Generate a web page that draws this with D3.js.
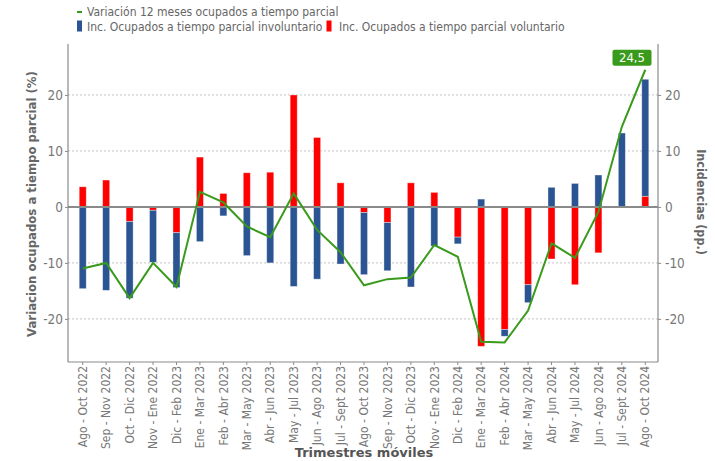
<!DOCTYPE html>
<html>
<head>
<meta charset="utf-8">
<script src="https://cdn.jsdelivr.net/npm/d3@7"></script>
<style>
  body { margin: 0; background: #fff; }
  svg { display: block; font-family: "DejaVu Sans Condensed", "DejaVu Sans", sans-serif; }
</style>
</head>
<body>
<div id="chart"></div>
<script>
// trimestres moviles
var periodos = ["Ago - Oct 2022", "Sep - Nov 2022", "Oct - Dic 2022", "Nov - Ene 2022", "Dic - Feb 2023",
  "Ene - Mar 2023", "Feb - Abr 2023", "Mar - May 2023", "Abr - Jun 2023", "May - Jul 2023",
  "Jun - Ago 2023", "Jul - Sept 2023", "Ago - Oct 2023", "Sep - Nov 2023", "Oct - Dic 2023",
  "Nov - Ene 2023", "Dic - Feb 2024", "Ene - Mar 2024", "Feb - Abr 2024", "Mar - May 2024",
  "Abr - Jun 2024", "May - Jul 2024", "Jun - Ago 2024", "Jul - Sept 2024", "Ago - Oct 2024"];

// incidencia involuntario (pp.)
var involuntario = [-14.6, -14.9, -13.7, -9.3, -9.8, -6.2, -1.6, -8.7, -10.0, -14.2,
  -12.9, -10.2, -11.1, -8.6, -14.3, -7.0, -1.2, 1.4, -1.2, -3.2,
  3.5, 4.2, 5.7, 13.2, 20.9];

// incidencia voluntario (pp.)
var voluntario = [3.6, 4.8, -2.6, -0.6, -4.6, 8.9, 2.4, 6.1, 6.2, 20.0,
  12.4, 4.3, -1.0, -2.8, 4.3, 2.6, -5.4, -24.9, -21.9, -13.9,
  -9.3, -13.9, -8.2, 0.0, 1.9];

// variacion 12 meses (%)
var variacion = [-11.0, -10.0, -16.3, -10.0, -14.3, 2.7, 0.8, -3.5, -5.4, 2.4,
  -4.1, -8.1, -14.0, -12.9, -12.6, -6.8, -8.9, -24.1, -24.2, -18.5,
  -6.5, -9.1, -0.9, 14.3, 24.5];

var yTicks = [-20, -10, 0, 10, 20];

var W = 715, H = 461;
var mLeft = 68, mRight = 658, mTop = 44, mBottom = 362;
var azul = "#2b5493", rojo = "#ff0000", verde = "#3a9a1c", gris = "#666";

var svg = d3.select("#chart").append("svg").attr("width", W).attr("height", H);

var x = d3.scaleBand().domain(periodos).range([71, 657]).paddingInner(0.7).paddingOuter(0.35);
var y = d3.scaleLinear().domain([-27.7, 29.1]).range([mBottom, mTop]);
var y2 = d3.scaleLinear().domain([-27.7, 29.1]).range([mBottom, mTop]);

// grid
svg.append("g").selectAll("line").data(yTicks.filter(function (d) { return d != 0; }))
  .enter().append("line")
  .attr("x1", mLeft).attr("x2", mRight)
  .attr("y1", function (d) { return y(d); }).attr("y2", function (d) { return y(d); })
  .attr("stroke", "#c4c4c4").attr("stroke-dasharray", "2,2").attr("stroke-width", 1);

// barras apiladas (voluntario primero, junto al cero)
var tabla = periodos.map(function (p, i) {
  return { periodo: p, voluntario: voluntario[i], involuntario: involuntario[i] };
});
var stack = d3.stack().keys(["voluntario", "involuntario"]).offset(d3.stackOffsetDiverging);
var series = stack(tabla);
var colores = { voluntario: rojo, involuntario: azul };

svg.append("g").selectAll("g").data(series).enter().append("g")
  .attr("fill", function (s) { return colores[s.key]; })
  .selectAll("rect").data(function (s) { return s; })
  .enter().append("rect")
  .attr("x", function (d) { return x(d.data.periodo); })
  .attr("width", x.bandwidth())
  .attr("y", function (d) { return y2(Math.max(d[0], d[1])); })
  .attr("height", function (d) { return Math.abs(y2(d[0]) - y2(d[1])); })
  .attr("stroke", "#fff").attr("stroke-opacity", 0.45).attr("stroke-width", 0.8);

// linea cero
svg.append("line").attr("x1", mLeft).attr("x2", mRight)
  .attr("y1", y(0)).attr("y2", y(0))
  .attr("stroke", "#8a8a8a").attr("stroke-width", 2);

// linea variacion
var linea = d3.line()
  .x(function (d, i) { return x(periodos[i]) + x.bandwidth() / 2; })
  .y(function (d) { return y(d); });
svg.append("path").datum(variacion).attr("d", linea)
  .attr("fill", "none").attr("stroke", verde).attr("stroke-width", 2);

// etiqueta ultimo valor
var ult = variacion.length - 1;
var px = x(periodos[ult]) + x.bandwidth() / 2, py = y(variacion[ult]);
var cx = Math.min(px, mRight - 26);
var etq = svg.append("g").attr("transform", "translate(" + cx + "," + (py - 12) + ")");
etq.append("rect").attr("x", -19.5).attr("y", -8).attr("width", 39).attr("height", 16)
  .attr("rx", 2).attr("fill", verde);
etq.append("text").attr("text-anchor", "middle").attr("y", 4.5)
  .attr("fill", "#fff").attr("font-size", 13)
  .text(d3.format(".1f")(variacion[ult]).replace(".", ","));

// ejes
var fmt = function (d) { return String(d); };
var axL = svg.append("g").attr("transform", "translate(" + mLeft + ",0)")
  .call(d3.axisLeft(y).tickValues(yTicks).tickSize(3).tickFormat(fmt));
var axR = svg.append("g").attr("transform", "translate(" + mRight + ",0)")
  .call(d3.axisRight(y2).tickValues(yTicks).tickSize(3).tickFormat(fmt));
var axB = svg.append("g").attr("transform", "translate(0," + mBottom + ")")
  .call(d3.axisBottom(x).tickSize(3));

[axL, axR, axB].forEach(function (ax) {
  ax.select(".domain").attr("stroke", "#8a8a8a").attr("stroke-width", 1.2);
  ax.selectAll(".tick line").attr("stroke", "#8a8a8a");
  ax.selectAll("text").attr("fill", "#777")
    .attr("font-family", "'DejaVu Sans Condensed', 'DejaVu Sans', sans-serif");
});
axL.select(".domain").attr("d", "M0," + mTop + "V" + mBottom);
axR.select(".domain").attr("d", "M0," + mTop + "V" + mBottom);
axB.select(".domain").attr("d", "M" + mLeft + ",0H" + mRight);
axL.selectAll("text").attr("font-size", 13.5).attr("x", -5);
axR.selectAll("text").attr("font-size", 13.5).attr("x", 7);
axB.selectAll("text").attr("font-size", 12)
  .attr("transform", "rotate(-90)").attr("text-anchor", "end")
  .attr("x", -4).attr("y", 0).attr("dy", "0.35em");

// titulos de ejes
svg.append("text").attr("transform", "translate(36,204) rotate(-90)")
  .attr("text-anchor", "middle").attr("font-size", 13).attr("font-weight", "bold")
  .attr("fill", gris).text("Variacion ocupados a tiempo parcial (%)");
svg.append("text").attr("transform", "translate(697,202) rotate(90)")
  .attr("text-anchor", "middle").attr("font-size", 12.5).attr("font-weight", "bold")
  .attr("fill", gris).text("Incidencias (pp.)");
svg.append("text").attr("x", 364).attr("y", 457)
  .attr("text-anchor", "middle").attr("font-size", 13).attr("font-weight", "bold")
  .attr("font-family", "'DejaVu Sans', sans-serif")
  .attr("fill", "#555").text("Trimestres móviles");

// leyenda
var ley = svg.append("g").attr("font-size", 12).attr("fill", "#666");
ley.append("rect").attr("x", 77).attr("y", 11).attr("width", 5).attr("height", 2).attr("fill", verde);
ley.append("text").attr("x", 87).attr("y", 16).text("Variación 12 meses ocupados a tiempo parcial");
ley.append("rect").attr("x", 77).attr("y", 20.5).attr("width", 5).attr("height", 11).attr("fill", azul);
ley.append("text").attr("x", 87).attr("y", 31).text("Inc. Ocupados a tiempo parcial involuntario");
ley.append("rect").attr("x", 326.5).attr("y", 20.5).attr("width", 5).attr("height", 11).attr("fill", rojo);
ley.append("text").attr("x", 339).attr("y", 31).text("Inc. Ocupados a tiempo parcial voluntario");
</script>
</body>
</html>
